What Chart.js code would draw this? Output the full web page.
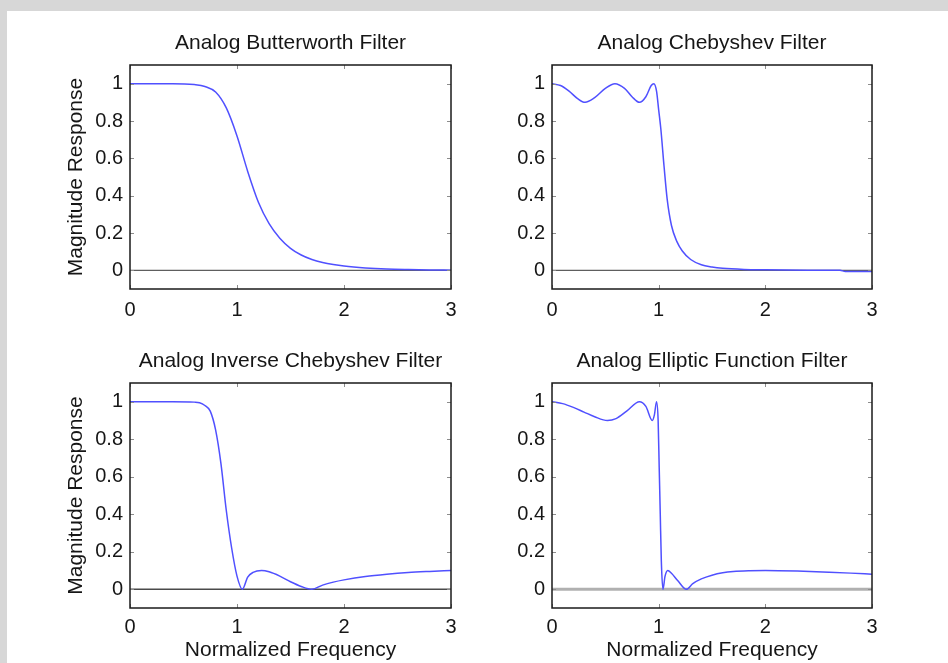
<!DOCTYPE html>
<html><head><meta charset="utf-8">
<script src="https://cdn.jsdelivr.net/npm/chart.js@4/dist/chart.umd.min.js"></script>
<style>
html,body{margin:0;padding:0;}
body{width:948px;height:663px;background:#d7d7d7;position:relative;overflow:hidden;}
#panel{position:absolute;left:7px;top:11px;right:0;bottom:0;background:#fff;}
canvas{position:absolute;left:0;top:0;}
</style></head><body>
<div id="panel"></div>
<canvas id="c1" width="948" height="663"></canvas>
<canvas id="c2" width="948" height="663"></canvas>
<canvas id="c3" width="948" height="663"></canvas>
<canvas id="c4" width="948" height="663"></canvas>
<script>
// ---- data ----
const xTicks = [0, 1, 2, 3];
const yTicks = [0, 0.2, 0.4, 0.6, 0.8, 1];
const titles = ["Analog Butterworth Filter", "Analog Chebyshev Filter", "Analog Inverse Chebyshev Filter", "Analog Elliptic Function Filter"];
const yLabel = "Magnitude Response";
const xLabel = "Normalized Frequency";
const zeroX = [0, 3];
const zeroY = [0, 0];

const butterX = [0, 0.2, 0.4, 0.6, 0.7, 0.8, 0.9, 1.0, 1.1, 1.2, 1.3, 1.4, 1.5, 1.6, 1.7, 1.8, 1.9, 2.0, 2.2, 2.4, 2.6, 2.8, 3.0];
const butterY = [1, 1, 1, 0.995, 0.985, 0.955, 0.87, 0.72, 0.53, 0.365, 0.25, 0.172, 0.118, 0.082, 0.058, 0.042, 0.031, 0.023, 0.013, 0.007, 0.004, 0.002, 0.001];

const chebX = [0, 0.08, 0.16, 0.24, 0.31, 0.4, 0.5, 0.59, 0.68, 0.75, 0.82, 0.88, 0.93, 0.955, 0.98, 1.0, 1.02, 1.05, 1.08, 1.12, 1.17, 1.22, 1.3, 1.4, 1.5, 1.6, 1.8, 2.0, 2.4, 2.7, 2.75, 3.0];
const chebY = [1, 0.99, 0.96, 0.92, 0.90, 0.925, 0.975, 1.0, 0.975, 0.93, 0.90, 0.93, 0.99, 1.0, 0.96, 0.86, 0.76, 0.56, 0.38, 0.24, 0.155, 0.105, 0.058, 0.03, 0.018, 0.011, 0.005, 0.003, 0.001, 0.0, -0.006, -0.006];

const invX = [0, 0.2, 0.4, 0.6, 0.65, 0.7, 0.75, 0.8, 0.85, 0.9, 0.95, 1.0, 1.05, 1.1, 1.15, 1.23, 1.3, 1.4, 1.5, 1.6, 1.7, 1.8, 1.9, 2.0, 2.2, 2.4, 2.6, 2.8, 3.0];
const invY = [1, 1, 1, 0.998, 0.995, 0.98, 0.95, 0.85, 0.67, 0.42, 0.22, 0.07, 0.0, 0.065, 0.09, 0.1, 0.093, 0.07, 0.04, 0.015, 0.0, 0.022, 0.038, 0.05, 0.068, 0.08, 0.089, 0.095, 0.1];

const ellX = [0, 0.1, 0.2, 0.3, 0.4, 0.52, 0.6, 0.7, 0.82, 0.88, 0.94, 0.96, 0.98, 0.995, 1.005, 1.015, 1.025, 1.04, 1.06, 1.085, 1.12, 1.18, 1.26, 1.32, 1.4, 1.5, 1.6, 1.7, 1.85, 2.0, 2.3, 2.6, 2.8, 3.0];
const ellY = [1, 0.99, 0.97, 0.945, 0.92, 0.9, 0.91, 0.95, 1.0, 0.975, 0.9, 0.93, 1.0, 0.9, 0.65, 0.4, 0.15, 0.0, 0.07, 0.1, 0.085, 0.045, 0.0, 0.03, 0.055, 0.075, 0.088, 0.095, 0.099, 0.1, 0.097, 0.091, 0.086, 0.08];

// ---- drawing ----
const FONT = '"Liberation Sans", Arial, sans-serif';
const pts = (xs, ys) => xs.map((x, i) => ({x: x, y: ys[i]}));

const framePlugin = {
  id: 'frame',
  afterDatasetsDraw(chart, args, opts) {
    const {ctx, chartArea: a, scales: {x, y}} = chart;
    ctx.save();
    ctx.strokeStyle = '#8c8c8c';
    ctx.lineWidth = 1;
    ctx.beginPath();
    xTicks.forEach(v => {
      const px = Math.round(x.getPixelForValue(v)) + 0.5;
      ctx.moveTo(px, a.bottom); ctx.lineTo(px, a.bottom - 4);
      ctx.moveTo(px, a.top); ctx.lineTo(px, a.top + 4);
    });
    yTicks.forEach(v => {
      const py = Math.round(y.getPixelForValue(v)) + 0.5;
      ctx.moveTo(a.left, py); ctx.lineTo(a.left + 4, py);
      ctx.moveTo(a.right, py); ctx.lineTo(a.right - 4, py);
    });
    ctx.stroke();
    ctx.strokeStyle = '#1a1a1a';
    ctx.lineWidth = 1.5;
    ctx.strokeRect(a.left, a.top, a.right - a.left, a.bottom - a.top);
    ctx.fillStyle = '#161616';
    ctx.font = '21px ' + FONT;
    ctx.textAlign = 'center';
    ctx.textBaseline = 'alphabetic';
    ctx.fillText(opts.text, (a.left + a.right) / 2, a.top - 16);
    ctx.restore();
  }
};

function makeChart(id, title, xs, ys, pad, showY, showX, zeroColor, zeroWidth) {
  const xH = showX ? 55 : 40;
  new Chart(document.getElementById(id), {
    type: 'line',
    data: {
      datasets: [
        {data: pts(xs, ys), borderColor: '#5050ff', borderWidth: 1.5, pointRadius: 0, fill: false, cubicInterpolationMode: 'monotone', order: 0},
        {data: pts(zeroX, zeroY), borderColor: zeroColor, borderWidth: zeroWidth, pointRadius: 0, fill: false, tension: 0, order: 1}
      ]
    },
    options: {
      responsive: false,
      devicePixelRatio: 1,
      animation: false,
      events: [],
      layout: {autoPadding: false, padding: pad},
      plugins: {legend: {display: false}, tooltip: {enabled: false}, title: {display: false}, frame: {text: title}},
      scales: {
        x: {
          type: 'linear', min: 0, max: 3,
          grid: {display: false, drawTicks: false},
          border: {display: false},
          afterBuildTicks: s => { s.ticks = xTicks.map(v => ({value: v})); },
          afterFit: s => { s.height = xH; },
          ticks: {autoSkip: false, maxRotation: 0, padding: showX ? 7 : 9, color: '#161616', font: {family: FONT, size: 20}, callback: v => String(v)},
          title: {display: showX, text: xLabel, color: '#161616', font: {family: FONT, size: 21}, padding: {top: 0, bottom: 0}}
        },
        y: {
          type: 'linear', min: -0.1, max: 1.1,
          grid: {display: false, drawTicks: false},
          border: {display: false},
          afterBuildTicks: s => { s.ticks = yTicks.map(v => ({value: v})); },
          afterFit: s => { s.width = 70; },
          ticks: {autoSkip: false, padding: 7, color: '#161616', font: {family: FONT, size: 20}, callback: v => String(v)},
          title: {display: showY, text: yLabel, color: '#161616', font: {family: FONT, size: 21}, padding: {top: 3.4, bottom: 0}}
        }
      }
    },
    plugins: [framePlugin]
  });
}

makeChart('c1', titles[0], butterX, butterY, {left: 60, right: 497, top: 65, bottom: 334}, true, false, '#5e5e5e', 1.3);
makeChart('c2', titles[1], chebX, chebY, {left: 482, right: 76, top: 65, bottom: 334}, false, false, '#5e5e5e', 1.3);
makeChart('c3', titles[2], invX, invY, {left: 60, right: 497, top: 383, bottom: 0}, true, true, '#4a4a4a', 1.3);
makeChart('c4', titles[3], ellX, ellY, {left: 482, right: 76, top: 383, bottom: 0}, false, true, '#b0b0b0', 3);
</script>
</body></html>
